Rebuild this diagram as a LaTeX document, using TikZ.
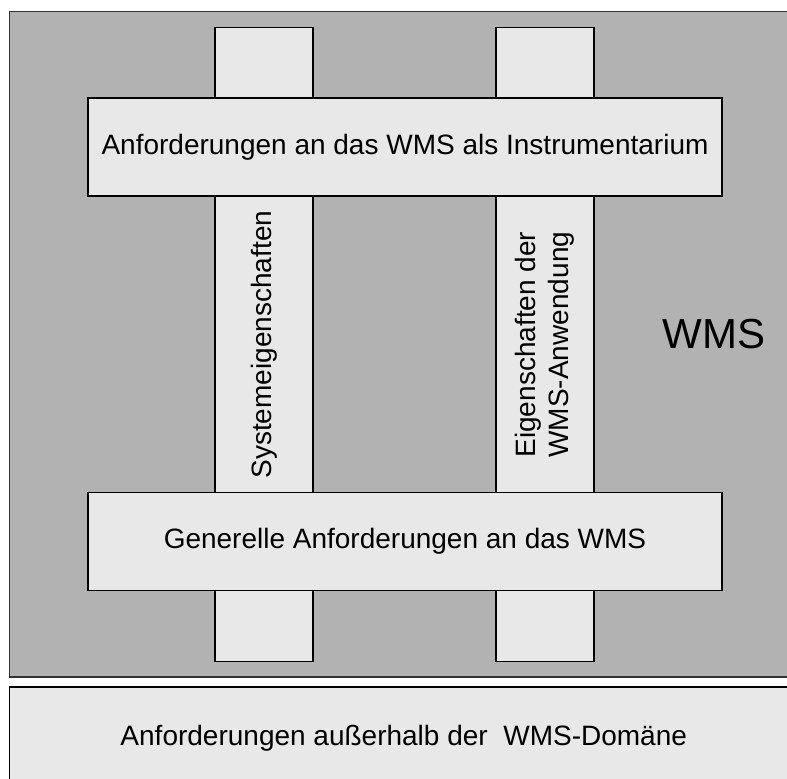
\documentclass[tikz,border=0pt]{standalone}
\usepackage{fontspec}
\setmainfont{Liberation Sans}
\usepackage{xcolor}
\usetikzlibrary{positioning}

\definecolor{domaingray}{HTML}{B2B2B2}
\definecolor{boxgray}{HTML}{E8E8E8}

\begin{document}
\begin{tikzpicture}[
          x=0.5pt,y=-0.5pt,
          field/.style={
              draw=black!80,
              line width=0.6pt,
              fill=domaingray,
              outer sep=0pt
            },box/.style={
              draw=black,
              line width=0.6pt,
              fill=boxgray,
              outer sep=0pt,
              font=\fontsize{14}{16.5}\selectfont
            },pillar/.style={
              box,
              rotate=90,
              minimum width=317pt,
              minimum height=49pt,
              align=left
            },beam/.style={
              box,
              minimum width=317pt,
              minimum height=49pt
            }
        ]
        % Bildausschnitt
        \useasboundingbox (0,0) rectangle (787,778);

        % WMS-Bereich
        \node[field, minimum width=394.25pt, minimum height=332.75pt] (wms) at (403.75,344.25) {};
        \node[font=\fontsize{21}{24}\selectfont] (wmslabel) at (714,334) {WMS};

        % Saeulen
        \node[pillar] (system) at (264,344.6) {Systemeigenschaften};
        \node[pillar] (anwendung) at (545,344.6) {Eigenschaften der\\WMS-Anwendung};

        % Querbalken
        \node[beam] (instrument) at (405,147) {Anforderungen an das WMS als Instrumentarium};
        \node[beam] (generell) at (405,541.5) {Generelle Anforderungen an das WMS};

        % ausserhalb der Domaene
        \node[box, minimum width=394.25pt, minimum height=51pt] (aussen) at (403.75,738) {Anforderungen außerhalb der\ \ WMS-Domäne};

      \end{tikzpicture}
\end{document}
